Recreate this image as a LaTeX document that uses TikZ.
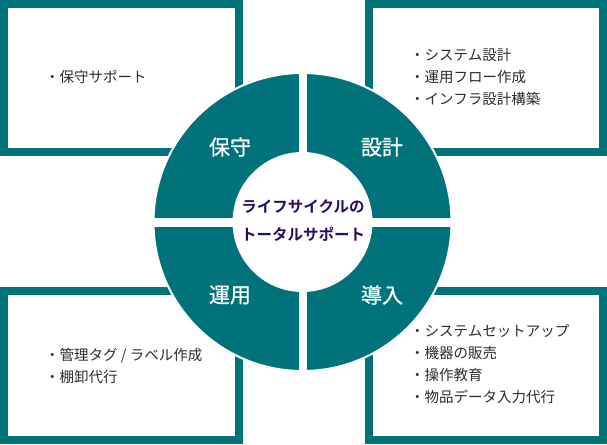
\documentclass[tikz,border=0pt]{standalone}
\usepackage{fontspec}
\setmainfont{Noto Sans CJK JP}
\newfontfamily\jpbold{Noto Sans CJK JP Bold}
\newfontfamily\jpmed[FakeBold=0.8]{Noto Sans CJK JP}
\definecolor{teal}{RGB}{0,115,122}
\definecolor{txtgray}{RGB}{45,45,45}
\definecolor{centerpurple}{RGB}{43,12,94}
\tikzset{
  infobox/.style={draw=teal, line width=8pt, fill=white},
  boxtext/.style={anchor=west, inner sep=0pt, align=left, text=txtgray,
    font=\fontsize{14.5}{22}\selectfont},
  phaselabel/.style={inner sep=0pt, text=white, font=\jpmed\fontsize{21}{24}\selectfont},
  centertext/.style={inner sep=0pt, align=center, text=centerpurple,
    font=\jpbold\fontsize{15.5}{28}\selectfont}
}
\begin{document}
\begin{tikzpicture}[x=1pt,y=-1pt]
\useasboundingbox (0,0) rectangle (607,444);
% boxes
\draw[infobox] (4,4) rectangle (239,152);
\draw[infobox] (369,4) rectangle (603,152);
\draw[infobox] (4,291) rectangle (239,440);
\draw[infobox] (369,291) rectangle (603,440);
% ring
\coordinate (c) at (302.5,222);
\fill[teal, draw=white, line width=2pt] (c) circle (149);
\fill[white] (298.5,70) rectangle (306.5,374);
\fill[white] (150,217.5) rectangle (455,226.5);
\fill[white] (c) circle (70);
% box texts
\node[boxtext] (tl) at (45,77) {・保守サポート};
\node[boxtext] (tr) at (410,77) {・システム設計\\・運用フロー作成\\・インフラ設計構築};
\node[boxtext] (bl) at (45,366) {・管理タグ / ラベル作成\\・棚卸代行};
\node[boxtext] (br) at (410,364.5) {・システムセットアップ\\・機器の販売\\・操作教育\\・物品データ入力代行};
% phase labels
\node[phaselabel] (hoshu) at (230,147) {保守};
\node[phaselabel] (sekkei) at (382,147) {設計};
\node[phaselabel] (unyo) at (230,295) {運用};
\node[phaselabel] (donyu) at (382,295) {導入};
% center
\node[centertext] (center) at (303,221) {ライフサイクルの\\トータルサポート};
\end{tikzpicture}
\end{document}
